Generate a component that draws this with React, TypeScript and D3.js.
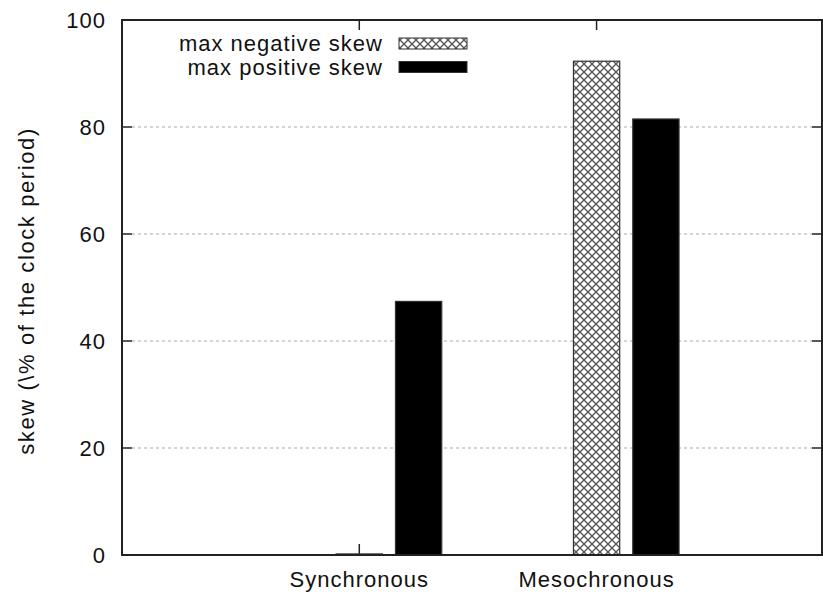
import React from 'react';
import * as d3 from 'd3';

const categories = ['Synchronous', 'Mesochronous'];
const maxNegativeSkew = [0.2, 92.3];
const maxPositiveSkew = [47.4, 81.5];
const seriesNames = ['max negative skew', 'max positive skew'];
const yTicks = [0, 20, 40, 60, 80, 100];

const W = 823;
const H = 592;
const font = '"Liberation Sans", Arial, Helvetica, sans-serif';

const App = () => {
  const left = 122;
  const right = 822;
  const top = 20;
  const bottom = 555;

  // category i sits at x = i, clusters as in gnuplot histogram
  const x = d3.scaleLinear().domain([-1, 1.95]).range([left, right]);
  const y = d3.scaleLinear().domain([0, 100]).range([bottom, top]);

  const barW = 0.195;
  const offsets = [0, 0.25];
  const series = [maxNegativeSkew, maxPositiveSkew];
  const fills = ['url(#crosshatch)', '#000'];

  const textStyle = { fontFamily: font, fontSize: 22, letterSpacing: '1px', fill: '#111' };

  return (
    <svg width={W} height={H} style={{ position: 'fixed', left: 0, top: 0, background: '#fff' }}>
      <defs>
        <pattern id="crosshatch" patternUnits="userSpaceOnUse" width={8} height={8}>
          <rect width={8} height={8} fill="#fff" />
          <path d="M0,0 L8,8 M8,0 L0,8" stroke="#555" strokeWidth={1.3} />
        </pattern>
      </defs>
      <rect x={0} y={0} width={W} height={H} fill="#fff" />

      {/* grid */}
      {yTicks.filter((t) => t > 0 && t < 100).map((t) => (
        <line key={'g' + t} x1={left + 10} x2={right - 10} y1={y(t)} y2={y(t)}
          stroke="#aaa" strokeWidth={1} strokeDasharray="3,3" />
      ))}

      {/* x ticks (under the bars) */}
      {categories.map((c, i) => (
        <g key={'xt' + c}>
          <line x1={x(i)} x2={x(i)} y1={bottom} y2={bottom - 11} stroke="#222" strokeWidth={1.5} />
          <line x1={x(i)} x2={x(i)} y1={top} y2={top + 10} stroke="#222" strokeWidth={1.5} />
        </g>
      ))}

      {/* bars */}
      {series.map((vals, s) =>
        vals.map((v, i) => {
          const cx = x(i + offsets[s]);
          const w = x(barW) - x(0);
          return (
            <rect key={`b${s}-${i}`} x={cx - w / 2} y={y(v)} width={w} height={y(0) - y(v)}
              fill={fills[s]} stroke="#333" strokeWidth={1.2} />
          );
        })
      )}

      {/* frame */}
      <rect x={left} y={top} width={right - left} height={bottom - top} fill="none" stroke="#222" strokeWidth={2} />

      {/* y ticks */}
      {yTicks.map((t) => (
        <g key={'t' + t}>
          <line x1={left} x2={left + 10} y1={y(t)} y2={y(t)} stroke="#222" strokeWidth={1.5} />
          <line x1={right - 10} x2={right} y1={y(t)} y2={y(t)} stroke="#222" strokeWidth={1.5} />
          <text x={106} y={y(t)} textAnchor="end" dominantBaseline="central" style={textStyle}>{t}</text>
        </g>
      ))}

      {/* x labels */}
      {categories.map((c, i) => (
        <text key={c} x={x(i)} y={587} textAnchor="middle" style={textStyle}>{c}</text>
      ))}

      {/* y label */}
      <text transform="translate(34,291) rotate(-90)" textAnchor="middle"
        style={{ ...textStyle, letterSpacing: '1.6px' }}>
        skew (\% of the clock period)
      </text>

      {/* legend */}
      {seriesNames.map((n, s) => (
        <g key={n}>
          <text x={383} y={43 + s * 24} textAnchor="end" dominantBaseline="central" style={textStyle}>{n}</text>
          <rect x={399} y={38 + s * 23.5} width={68} height={11} fill={fills[s]} stroke="#333" strokeWidth={1} />
        </g>
      ))}
    </svg>
  );
};

export default App;
